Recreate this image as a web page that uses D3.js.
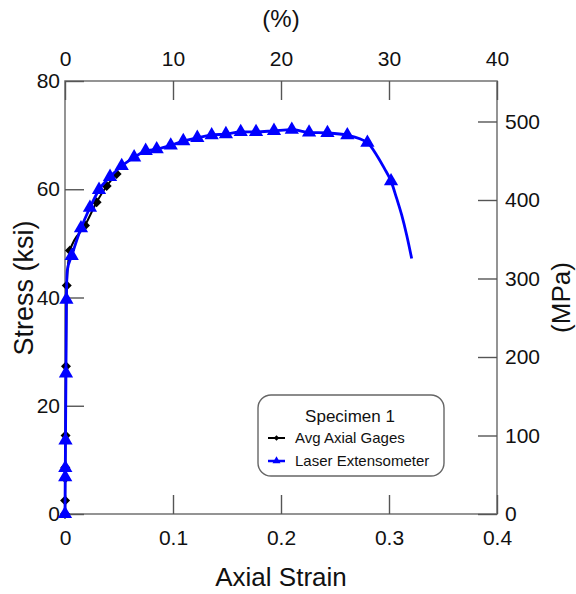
<!DOCTYPE html>
<html>
<head>
<meta charset="utf-8">
<script src="https://cdn.jsdelivr.net/npm/d3@7"></script>
<style>
  html, body { margin: 0; padding: 0; background: #fff; }
  svg { display: block; font-family: "Liberation Sans", Arial, sans-serif; }
</style>
</head>
<body>
<svg id="chart" width="576" height="594"></svg>
<script>
// Avg Axial Gages (strain gage average)
const gageStrain = [0, 0.00008, 0.00022, 0.00029, 0.0005, 0.0009, 0.0016, 0.0046, 0.0185, 0.0293, 0.0386, 0.0478];
const gageStress = [0, 2.5, 6.6, 8.6, 14.5, 27.3, 42.2, 48.7, 53.3, 57.6, 60.6, 62.8];

// Laser Extensometer (marked points)
const laserStrain = [0, 0.0002, 0.00028, 0.00045, 0.0009, 0.0013, 0.0062, 0.0148, 0.0231, 0.0315, 0.0417, 0.0525, 0.064, 0.0747,
  0.0849, 0.0979, 0.1095, 0.1225, 0.1358, 0.149, 0.1627, 0.1769, 0.1935, 0.21, 0.226, 0.243, 0.2614, 0.280, 0.3019];
const laserStress = [0, 6.8, 8.5, 13.6, 26.0, 39.6, 47.7, 52.8, 56.6, 59.9, 62.3, 64.3, 65.9, 67.1,
  67.4, 68.1, 68.9, 69.5, 70.0, 70.2, 70.6, 70.6, 70.8, 71.0, 70.5, 70.4, 70.0, 68.6, 61.5];

// Extra recorded points of the laser trace that carry no marker
const laserTraceStrain = [0.0021, 0.2886, 0.2956, 0.3071, 0.3118, 0.3164, 0.321];
const laserTraceStress = [45.0, 66.3, 63.9, 58.3, 55.2, 51.5, 47.2];

// Axis ticks
const strainTicks = [0, 0.1, 0.2, 0.3, 0.4];
const percentTicks = [0, 10, 20, 30, 40];
const ksiTicks = [0, 20, 40, 60, 80];
const mpaTicks = [0, 100, 200, 300, 400, 500];

const KSI_TO_MPA = 6.894757;

const svg = d3.select("#chart");
const L = 65, R = 497, T = 81, B = 514;

const x = d3.scaleLinear().domain([0, 0.4]).range([L, R]);
const xTop = d3.scaleLinear().domain([0, 40]).range([L, R]);
const y = d3.scaleLinear().domain([0, 80]).range([B, T]);
const yRight = d3.scaleLinear().domain([0, 80 * KSI_TO_MPA]).range([B, T]);

const frameColor = "#7a7a7a";
const tickColor = "#555";
const tickFont = 21;

// Frame
svg.append("rect")
  .attr("x", L).attr("y", T).attr("width", R - L).attr("height", B - T)
  .attr("fill", "none").attr("stroke", frameColor).attr("stroke-width", 1.6);

function styleAxis(g) {
  g.select(".domain").remove();
  g.selectAll(".tick line").attr("stroke", tickColor).attr("stroke-width", 1.4);
  g.selectAll(".tick text").attr("fill", "#111").style("font-size", tickFont + "px")
    .style("font-family", "'Liberation Sans', Arial, sans-serif");
}

svg.append("g").attr("transform", `translate(0,${B})`)
  .call(d3.axisBottom(x).tickValues(strainTicks).tickFormat(d3.format("")).tickSizeInner(-19).tickSizeOuter(0).tickPadding(16))
  .call(styleAxis);

svg.append("g").attr("transform", `translate(0,${T})`)
  .call(d3.axisTop(xTop).tickValues(percentTicks).tickFormat(d3.format("")).tickSizeInner(-19).tickSizeOuter(0).tickPadding(15))
  .call(styleAxis);

svg.append("g").attr("transform", `translate(${L},0)`)
  .call(d3.axisLeft(y).tickValues(ksiTicks).tickSizeInner(-19).tickSizeOuter(0).tickPadding(5))
  .call(styleAxis);

svg.append("g").attr("transform", `translate(${R},0)`)
  .call(d3.axisRight(yRight).tickValues(mpaTicks).tickSizeInner(-19).tickSizeOuter(0).tickPadding(8))
  .call(styleAxis);

// Axis titles
svg.append("text").attr("x", (L + R) / 2).attr("y", 586).attr("text-anchor", "middle")
  .style("font-size", "26px").attr("fill", "#111").text("Axial Strain");
svg.append("text").attr("x", (L + R) / 2).attr("y", 27).attr("text-anchor", "middle")
  .style("font-size", "24px").attr("fill", "#111").text("(%)");
svg.append("text").attr("transform", "translate(33,288) rotate(-90)").attr("text-anchor", "middle")
  .style("font-size", "27px").attr("fill", "#111").text("Stress (ksi)");
svg.append("text").attr("transform", `translate(570,${(T + B) / 2}) rotate(-90)`).attr("text-anchor", "middle")
  .style("font-size", "26px").attr("fill", "#111").text("(MPa)");

// Series
const gagePts = gageStrain.map((s, i) => [s, gageStress[i]]);
const laserPts = laserStrain.map((s, i) => [s, laserStress[i]]);
const tracePts = laserPts.concat(laserTraceStrain.map((s, i) => [s, laserTraceStress[i]]))
  .sort((a, b) => a[0] - b[0]);

const line = d3.line().x(d => x(d[0])).y(d => y(d[1])).curve(d3.curveMonotoneX);

const diamond = d3.symbol().type(d3.symbolSquare).size(50);
const triangle = d3.symbol().type(d3.symbolTriangle).size(88);

svg.append("path").datum(gagePts).attr("d", line)
  .attr("fill", "none").attr("stroke", "#000").attr("stroke-width", 2);
svg.append("g").selectAll("path").data(gagePts).join("path")
  .attr("d", diamond)
  .attr("transform", d => `translate(${x(d[0])},${y(d[1])}) rotate(45)`)
  .attr("fill", "#000");

svg.append("path").datum(tracePts).attr("d", line)
  .attr("fill", "none").attr("stroke", "#0000ff").attr("stroke-width", 2.8);
svg.append("g").selectAll("path").data(laserPts).join("path")
  .attr("d", triangle)
  .attr("transform", d => `translate(${x(d[0])},${y(d[1])})`)
  .attr("fill", "#0000ff");

// Legend
const lg = svg.append("g");
lg.append("rect").attr("x", 258).attr("y", 395).attr("width", 186).attr("height", 81)
  .attr("rx", 13).attr("ry", 13).attr("fill", "#fff").attr("stroke", "#666").attr("stroke-width", 1.4);
lg.append("text").attr("x", 350).attr("y", 422).attr("text-anchor", "middle")
  .style("font-size", "17px").attr("fill", "#111").text("Specimen 1");
const entries = [
  { label: "Avg Axial Gages", color: "#000", sym: d3.symbol().type(d3.symbolSquare).size(16), rot: 45, y: 438, w: 2 },
  { label: "Laser Extensometer", color: "#0000ff", sym: d3.symbol().type(d3.symbolTriangle).size(28), rot: 0, y: 461, w: 2.5 }
];
entries.forEach(e => {
  lg.append("line").attr("x1", 268).attr("x2", 285).attr("y1", e.y).attr("y2", e.y)
    .attr("stroke", e.color).attr("stroke-width", e.w);
  lg.append("path").attr("d", e.sym()).attr("transform", `translate(276.5,${e.y}) rotate(${e.rot})`).attr("fill", e.color);
  lg.append("text").attr("x", 295).attr("y", e.y + 5).style("font-size", "15px").attr("fill", "#111").text(e.label);
});
</script>
</body>
</html>
